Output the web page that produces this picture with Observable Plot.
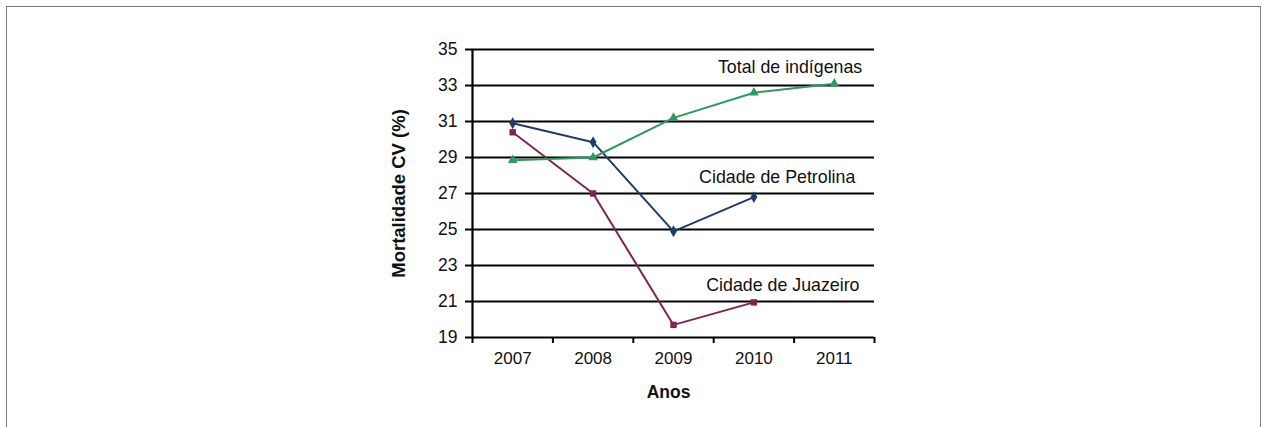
<!DOCTYPE html>
<html><head><meta charset="utf-8">
<script src="https://cdn.jsdelivr.net/npm/d3@7"></script>
<script src="https://cdn.jsdelivr.net/npm/@observablehq/plot@0.6"></script>
<style>
html,body{margin:0;padding:0;background:#fff;}
#frame{position:absolute;left:6px;top:6px;width:1253px;height:460px;border:1.5px solid #7a7a7a;}
#chart{position:absolute;left:0;top:0;}
</style></head><body>
<div id="frame"></div><div id="chart"></div>
<script>
// ---- data ----
const years = [2007, 2008, 2009, 2010, 2011];
const petrolina = [30.9, 29.85, 24.9, 26.8];          // 2007–2010
const juazeiro = [30.4, 27.0, 19.7, 20.95];            // 2007–2010
const totalIndigenas = [28.85, 29.0, 31.2, 32.6, 33.1]; // 2007–2011
const yTicks = [19, 21, 23, 25, 27, 29, 31, 33, 35];
const seriesNames = ["Cidade de Petrolina", "Cidade de Juazeiro", "Total de indígenas"];
const seriesColors = ["#203c6a", "#7d2454", "#2e9a60"];
const seriesSymbols = ["diamond", "square", "triangle"];
// label anchors (data coordinates)
const labelYear = [2010.29, 2010.36, 2010.45];
const labelValue = [27.9, 21.9, 34.02];

const seriesValues = [petrolina, juazeiro, totalIndigenas];
const rows = seriesValues.flatMap((vals, i) =>
  vals.map((v, j) => ({series: seriesNames[i], year: years[j], value: v})));
const labels = seriesNames.map((s, i) => ({series: s, year: labelYear[i], value: labelValue[i]}));

const x0 = years[0] - 0.5, x1 = years[years.length - 1] + 0.5;
const bounds = [...years.map(y => y - 0.5), x1];
const FONT = '"Liberation Sans", Arial, sans-serif';

const chart = Plot.plot({
  width: 1267,
  height: 427,
  marginLeft: 472,
  marginRight: 393,
  marginTop: 49,
  marginBottom: 90,
  style: {fontFamily: FONT, fontSize: "17px", color: "#111", background: "transparent"},
  x: {type: "linear", domain: [x0, x1]},
  y: {domain: [19, 35]},
  color: {domain: seriesNames, range: seriesColors},
  symbol: {domain: seriesNames, range: seriesSymbols},
  marks: [
    Plot.ruleY(yTicks.slice(1), {stroke: "#000", strokeWidth: 2}),
    Plot.axisY({ticks: yTicks, tickSize: 7, tickPadding: 8, tickFormat: d => String(d), label: null, fontSize: 17.5, stroke: "#000", strokeWidth: 2}),
    Plot.axisX({ticks: bounds, tickSize: 6, tickFormat: () => "", label: null, stroke: "#000", strokeWidth: 2}),
    Plot.axisX({ticks: years, tickSize: 0, tickPadding: 14, tickFormat: d => String(d), label: null, fontSize: 17}),
    Plot.ruleX([x0], {stroke: "#000", strokeWidth: 2.2}),
    Plot.ruleY([19], {stroke: "#000", strokeWidth: 2.2}),
    Plot.line(rows, {x: "year", y: "value", z: "series", stroke: "series", strokeWidth: 2}),
    Plot.dot(rows, {x: "year", y: "value", fill: "series", symbol: "series", r: 3.6, stroke: "none"}),
    Plot.text(labels, {x: "year", y: "value", text: "series", fontSize: 17.8, fill: "#111", textAnchor: "middle"}),
    Plot.text(["Anos"], {frameAnchor: "bottom", lineAnchor: "middle", dy: 55, dx: -5, fontSize: 17.5, fontWeight: "bold", fill: "#111"}),
    Plot.text(["Mortalidade CV (%)"], {frameAnchor: "left", textAnchor: "middle", lineAnchor: "middle", dx: -73, rotate: -90, fontSize: 18.5, fontWeight: "bold", fill: "#111"})
  ]
});
document.getElementById("chart").appendChild(chart);
</script>
</body></html>
